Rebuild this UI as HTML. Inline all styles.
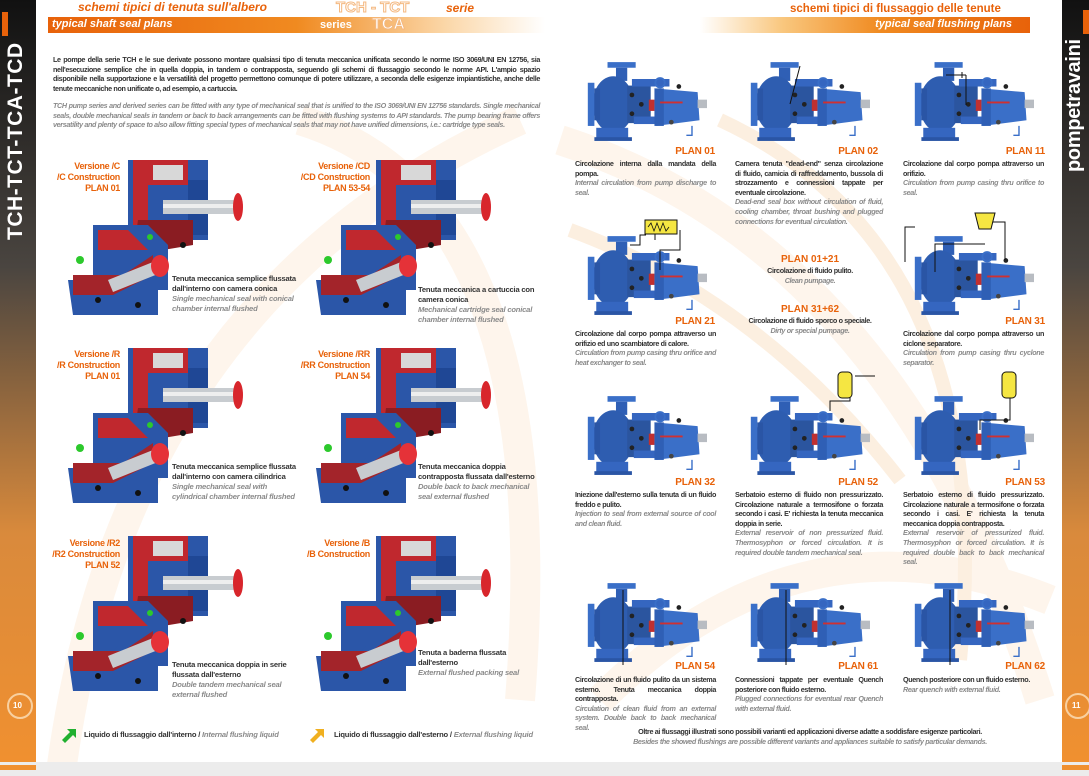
<!DOCTYPE html>
<html><head><meta charset="utf-8">
<style>
*{margin:0;padding:0;box-sizing:border-box}
body{width:1089px;height:776px;overflow:hidden;background:#fff;position:relative;font-family:"Liberation Sans",sans-serif}
.a{position:absolute}
.t{font-size:7.2px;line-height:9.6px;font-weight:bold;color:#333;letter-spacing:-0.35px;text-align:justify}
.t i{font-weight:bold;color:#8a8a8a;display:block}
.pl{position:absolute;font-size:10px;font-weight:bold;color:#e8620a;text-align:right;letter-spacing:-0.2px}
.ver{position:absolute;font-size:9px;line-height:11px;font-weight:bold;color:#e8620a;text-align:right;letter-spacing:-0.3px}
.cap{position:absolute;font-size:7.6px;line-height:10px;font-weight:bold;color:#333;letter-spacing:-0.2px}
.cap i{color:#8a8a8a;display:block}
</style></head><body>
<svg class="a" style="left:0;top:0" width="1089" height="776">
<defs>
<linearGradient id="ls" x1="0" y1="0" x2="0" y2="1"><stop offset="0" stop-color="#111"/><stop offset="0.35" stop-color="#4a4540"/><stop offset="0.7" stop-color="#d98a3c"/><stop offset="1" stop-color="#f09030"/></linearGradient>
<linearGradient id="hb" x1="0" y1="0" x2="1" y2="0"><stop offset="0" stop-color="#e8620a"/><stop offset="0.5" stop-color="#f08a20"/><stop offset="0.8" stop-color="#fbd7a8"/><stop offset="1" stop-color="#fff"/></linearGradient>
<linearGradient id="hb2" x1="0" y1="0" x2="1" y2="0"><stop offset="0" stop-color="#fff"/><stop offset="0.25" stop-color="#f9c77e"/><stop offset="0.55" stop-color="#f08a20"/><stop offset="1" stop-color="#e8620a"/></linearGradient>
<symbol id="pump" viewBox="0 0 130 85">
<rect x="24" y="0" width="30" height="6" fill="#3a6fc8"/>
<rect x="33" y="6" width="12" height="14" fill="#2f5fb5"/>
<ellipse cx="30" cy="45" rx="22" ry="30" fill="#2e5db0"/>
<rect x="3" y="22" width="7" height="46" fill="#3a6fc8"/>
<rect x="10" y="28" width="6" height="34" fill="#2a55a5"/>
<rect x="12" y="70" width="34" height="12" fill="#3566c0"/>
<rect x="10" y="80" width="40" height="4" fill="#2a55a5"/>
<rect x="45" y="25" width="25" height="40" fill="#2b559f"/>
<circle cx="50" cy="35" r="2.5" fill="#222"/><circle cx="50" cy="55" r="2.5" fill="#222"/><circle cx="60" cy="45" r="2.5" fill="#222"/>
<rect x="50" y="18" width="40" height="8" fill="#3566c0"/>
<rect x="52" y="58" width="40" height="8" fill="#3566c0"/>
<rect x="68" y="40" width="6" height="12" fill="#c03030"/>
<path d="M74 28 L120 32 L122 62 L76 68 Z" fill="#3a6fc8"/>
<rect x="74" y="28" width="10" height="40" fill="#2f5fb5"/>
<rect x="80" y="42" width="24" height="2" fill="#d03030"/>
<rect x="120" y="40" width="10" height="9" fill="#b8bcc2"/>
<circle cx="80" cy="22" r="5" fill="none" stroke="#3a6fc8" stroke-width="2"/>
<circle cx="100" cy="26" r="2.5" fill="#222"/><circle cx="92" cy="64" r="2.5" fill="#444"/>
<path d="M114 68 v10 h-6" fill="none" stroke="#3a6fc8" stroke-width="1.5"/>
</symbol>
<symbol id="cut" viewBox="0 0 175 155">
<rect x="60" y="0" width="80" height="80" fill="#2b56a8"/>
<path d="M65 0 h55 v25 h-40 v55 h-15 Z" fill="#c0282e"/>
<rect x="85" y="5" width="30" height="15" fill="#d8d8d8"/>
<rect x="120" y="20" width="20" height="55" fill="#1f4795"/>
<rect x="95" y="40" width="75" height="14" fill="#c8ccd0"/>
<rect x="95" y="44" width="75" height="4" fill="#eee"/>
<ellipse cx="170" cy="47" rx="5" ry="14" fill="#d8262c"/>
<path d="M70 60 h55 v25 l-60 10 Z" fill="#8a1c22"/>
<path d="M25 65 h55 l20 20 v45 h-75 Z" fill="#2b56a8"/>
<path d="M30 70 h30 l20 20 h-50 Z" fill="#c0282e"/>
<path d="M0 120 h40 l10 -10 h40 v45 h-85 Z" fill="#2b56a8"/>
<path d="M5 115 h50 l30 -20 v20 l-40 20 h-40 Z" fill="#a3242a"/>
<path d="M40 120 L90 100 L95 112 L45 132 Z" fill="#c8ccd0"/>
<ellipse cx="92" cy="106" rx="9" ry="11" fill="#e53238"/>
<circle cx="12" cy="100" r="4" fill="#2cc92c"/>
<circle cx="82" cy="77" r="3" fill="#2cc92c"/>
<circle cx="30" cy="140" r="3" fill="#111"/><circle cx="70" cy="145" r="3" fill="#111"/><circle cx="115" cy="85" r="3" fill="#111"/>
</symbol>
</defs>
<g fill="none" stroke="#fef5ec" stroke-width="30">
<path d="M60 780 Q120 300 520 120"/>
<path d="M300 120 Q560 200 520 700"/>
<path d="M560 140 Q900 250 1040 700"/>
<path d="M600 700 Q800 500 1050 600"/>
</g>
<g fill="none" stroke="#fcefe0" stroke-width="14">
<path d="M570 230 Q760 300 900 480"/>
<path d="M720 120 Q1000 250 960 660"/>
</g>
<rect x="0" y="0" width="36" height="762" fill="url(#ls)"/>
<rect x="2" y="12" width="6" height="24" fill="#e8620a"/>
<rect x="1062" y="0" width="27" height="762" fill="url(#ls)"/>
<rect x="1083" y="10" width="6" height="24" fill="#e8620a"/>
<circle cx="20" cy="706" r="12" fill="none" stroke="#f8d0a0" stroke-width="2"/>
<circle cx="1078" cy="706" r="12" fill="none" stroke="#f8d0a0" stroke-width="2"/>
<rect x="0" y="762" width="1089" height="14" fill="#ececec"/>
<rect x="0" y="765" width="36" height="5" fill="#f09030"/>
<rect x="1062" y="765" width="27" height="5" fill="#f09030"/>
<rect x="48" y="17" width="497" height="16" fill="url(#hb)"/>
<rect x="700" y="17" width="330" height="16" fill="url(#hb2)"/>
<use href="#cut" x="68" y="160" width="175" height="155"/>
<use href="#cut" x="316" y="160" width="175" height="155"/>
<use href="#cut" x="68" y="348" width="175" height="155"/>
<use href="#cut" x="316" y="348" width="175" height="155"/>
<use href="#cut" x="68" y="536" width="175" height="155"/>
<use href="#cut" x="316" y="536" width="175" height="155"/>
<path d="M62 740 l8 -8 l-3 -3 h9 v9 l-3 -3 l-8 8 Z" fill="#22b030"/>
<path d="M310 740 l8 -8 l-3 -3 h9 v9 l-3 -3 l-8 8 Z" fill="#f0b020"/>
<g>
<use href="#pump" x="585" y="62" width="122" height="80"/>
<use href="#pump" x="748" y="62" width="122" height="80"/>
<use href="#pump" x="912" y="62" width="122" height="80"/>
<use href="#pump" x="585" y="236" width="122" height="80"/>
<use href="#pump" x="912" y="236" width="122" height="80"/>
<use href="#pump" x="585" y="396" width="122" height="80"/>
<use href="#pump" x="748" y="396" width="122" height="80"/>
<use href="#pump" x="912" y="396" width="122" height="80"/>
<use href="#pump" x="585" y="583" width="122" height="80"/>
<use href="#pump" x="748" y="583" width="122" height="80"/>
<use href="#pump" x="912" y="583" width="122" height="80"/>
</g>
<g stroke="#111" stroke-width="1" fill="none">
<path d="M800 66 L790 104"/>
<path d="M946 75 h20 M962 72 v6 M966 75 v30"/>
<path d="M630 245 h10 v-10 h6 M655 240 v-10 M680 230 v20 h-20 v20"/>
<path d="M935 272 v-28 h50 M985 222 h20 v38 M905 262 v-35 h10"/>
<path d="M850 376 v25 h-20 v10 M855 376 h20"/>
<path d="M1010 390 v30 h-30 v10"/>
<path d="M623 590 v75 M786 590 v75 M950 590 v75"/>
</g>
<rect x="645" y="220" width="32" height="14" fill="#f5e642" stroke="#111"/>
<path d="M648 227 l3 -4 l3 8 l3 -8 l3 8 l3 -8 l3 8 l3 -4" stroke="#111" fill="none" stroke-width="0.8"/>
<path d="M975 213 h20 l-4 16 h-12 Z" fill="#f5e642" stroke="#111"/>
<rect x="838" y="372" width="14" height="26" rx="4" fill="#f5e642" stroke="#111"/>
<rect x="1002" y="372" width="14" height="26" rx="4" fill="#f5e642" stroke="#111"/>
</svg>

<div class="a" style="left:4px;top:240px;width:230px;height:26px;transform-origin:0 0;transform:rotate(-90deg);color:#fff;font-weight:bold;font-size:21px;letter-spacing:0.5px">TCH-TCT-TCA-TCD</div>
<div class="a" style="left:1063px;top:172px;width:170px;height:26px;transform-origin:0 0;transform:rotate(-90deg);color:#fff;font-weight:bold;font-size:20px;letter-spacing:-0.3px">pompetravaini</div>
<div class="a" style="left:13px;top:701px;font-size:8px;font-weight:bold;color:#fff">10</div>
<div class="a" style="left:1072px;top:701px;font-size:8px;font-weight:bold;color:#fff">11</div>

<div class="a" style="left:78px;top:0px;font-size:12px;font-weight:bold;font-style:italic;color:#e8620a">schemi tipici di tenuta sull'albero</div>
<div class="a" style="left:52px;top:18px;font-size:11px;font-weight:bold;font-style:italic;color:#fff">typical shaft seal plans</div>
<div class="a" style="left:336px;top:0px;font-size:15px;line-height:16px;font-weight:bold;color:#fff;-webkit-text-stroke:1px #f4b880">TCH - TCT</div>
<div class="a" style="left:446px;top:1px;font-size:12px;font-weight:bold;font-style:italic;color:#e8620a">serie</div>
<div class="a" style="left:320px;top:19px;font-size:11px;font-weight:bold;color:#fff">series</div>
<div class="a" style="left:372px;top:16px;font-size:16px;line-height:18px;font-weight:bold;color:#fff;-webkit-text-stroke:1px #f4b880">TCA</div>
<div class="a" style="left:790px;top:3px;font-size:11.5px;font-weight:bold;color:#e8620a">schemi tipici di flussaggio delle tenute</div>
<div class="a" style="left:840px;top:18px;width:172px;text-align:right;font-size:11px;font-weight:bold;font-style:italic;color:#fff">typical seal flushing plans</div>

<div class="a t" style="left:53px;top:55px;width:487px;font-size:7.2px">Le pompe della serie TCH e le sue derivate possono montare qualsiasi tipo di tenuta meccanica unificata secondo le norme ISO 3069/UNI EN 12756, sia nell'esecuzione semplice che in quella doppia, in tandem o contrapposta, seguendo gli schemi di flussaggio secondo le norme API. L'ampio spazio disponibile nella supportazione e la versatilità del progetto permettono comunque di potere utilizzare, a seconda delle esigenze impiantistiche, anche delle tenute meccaniche non unificate o, ad esempio, a cartuccia.</div>
<div class="a t" style="left:53px;top:101px;width:487px;font-size:7.2px;font-style:italic;color:#8a8a8a">TCH pump series and derived series can be fitted with any type of mechanical seal that is unified to the ISO 3069/UNI EN 12756 standards. Single mechanical seals, double mechanical seals in tandem or back to back arrangements can be fitted with flushing systems to API standards. The pump bearing frame offers versatility and plenty of space to also allow fitting special types of mechanical seals that may not have unified dimensions, i.e.: cartridge type seals.</div>

<div class="ver" style="left:40px;top:161px;width:80px">Versione /C<br>/C Construction<br>PLAN 01</div>
<div class="ver" style="left:290px;top:161px;width:80px">Versione /CD<br>/CD Construction<br>PLAN 53-54</div>
<div class="ver" style="left:40px;top:349px;width:80px">Versione /R<br>/R Construction<br>PLAN 01</div>
<div class="ver" style="left:290px;top:349px;width:80px">Versione /RR<br>/RR Construction<br>PLAN 54</div>
<div class="ver" style="left:40px;top:538px;width:80px">Versione /R2<br>/R2 Construction<br>PLAN 52</div>
<div class="ver" style="left:290px;top:538px;width:80px">Versione /B<br>/B Construction</div>

<div class="cap" style="left:172px;top:274px">Tenuta meccanica semplice flussata<br>dall'interno con camera conica<i>Single mechanical seal with conical<br>chamber internal flushed</i></div>
<div class="cap" style="left:418px;top:285px">Tenuta meccanica a cartuccia con<br>camera conica<i>Mechanical cartridge seal conical<br>chamber internal flushed</i></div>
<div class="cap" style="left:172px;top:462px">Tenuta meccanica semplice flussata<br>dall'interno con camera cilindrica<i>Single mechanical seal with<br>cylindrical chamber internal flushed</i></div>
<div class="cap" style="left:418px;top:462px">Tenuta meccanica doppia<br>contrapposta flussata dall'esterno<i>Double back to back mechanical<br>seal external flushed</i></div>
<div class="cap" style="left:172px;top:660px">Tenuta meccanica doppia in serie<br>flussata dall'esterno<i>Double tandem mechanical seal<br>external flushed</i></div>
<div class="cap" style="left:418px;top:648px">Tenuta a baderna flussata<br>dall'esterno<i>External flushed packing seal</i></div>

<div class="cap" style="left:84px;top:730px">Liquido di flussaggio dall'interno / <span style="color:#8a8a8a;font-style:italic">Internal flushing liquid</span></div>
<div class="cap" style="left:334px;top:730px">Liquido di flussaggio dall'esterno / <span style="color:#8a8a8a;font-style:italic">External flushing liquid</span></div>

<div class="pl" style="left:640px;top:146px;width:75px">PLAN 01</div>
<div class="pl" style="left:800px;top:146px;width:78px">PLAN 02</div>
<div class="pl" style="left:970px;top:146px;width:75px">PLAN 11</div>
<div class="a t" style="left:575px;top:159px;width:141px">Circolazione interna dalla mandata della pompa.<i style="font-style:italic">Internal circulation from pump discharge to seal.</i></div>
<div class="a t" style="left:735px;top:159px;width:148px">Camera tenuta "dead-end" senza circolazione di fluido, camicia di raffreddamento, bussola di strozzamento e connessioni tappate per eventuale circolazione.<i style="font-style:italic">Dead-end seal box without circulation of fluid, cooling chamber, throat bushing and plugged connections for eventual circulation.</i></div>
<div class="a t" style="left:903px;top:159px;width:141px">Circolazione dal corpo pompa attraverso un orifizio.<i style="font-style:italic">Circulation from pump casing thru orifice to seal.</i></div>

<div class="a" style="left:740px;top:254px;width:140px;text-align:center;font-size:10px;font-weight:bold;color:#e8620a">PLAN 01+21</div>
<div class="a t" style="left:740px;top:266px;width:140px;text-align:center">Circolazione di fluido pulito.<i style="font-style:italic">Clean pumpage.</i></div>
<div class="a" style="left:740px;top:304px;width:140px;text-align:center;font-size:10px;font-weight:bold;color:#e8620a">PLAN 31+62</div>
<div class="a t" style="left:735px;top:316px;width:150px;text-align:center">Circolazione di fluido sporco o speciale.<i style="font-style:italic">Dirty or special pumpage.</i></div>

<div class="pl" style="left:640px;top:316px;width:75px">PLAN 21</div>
<div class="pl" style="left:970px;top:316px;width:75px">PLAN 31</div>
<div class="a t" style="left:575px;top:329px;width:141px">Circolazione dal corpo pompa attraverso un orifizio ed uno scambiatore di calore.<i style="font-style:italic">Circulation from pump casing thru orifice and heat exchanger to seal.</i></div>
<div class="a t" style="left:903px;top:329px;width:141px">Circolazione dal corpo pompa attraverso un ciclone separatore.<i style="font-style:italic">Circulation from pump casing thru cyclone separator.</i></div>

<div class="pl" style="left:640px;top:477px;width:75px">PLAN 32</div>
<div class="pl" style="left:800px;top:477px;width:78px">PLAN 52</div>
<div class="pl" style="left:970px;top:477px;width:75px">PLAN 53</div>
<div class="a t" style="left:575px;top:490px;width:141px">Iniezione dall'esterno sulla tenuta di un fluido freddo e pulito.<i style="font-style:italic">Injection to seal from external source of cool and clean fluid.</i></div>
<div class="a t" style="left:735px;top:490px;width:148px">Serbatoio esterno di fluido non pressurizzato. Circolazione naturale a termosifone o forzata secondo i casi. E' richiesta la tenuta meccanica doppia in serie.<i style="font-style:italic">External reservoir of non pressurized fluid. Thermosyphon or forced circulation. It is required double tandem mechanical seal.</i></div>
<div class="a t" style="left:903px;top:490px;width:141px">Serbatoio esterno di fluido pressurizzato. Circolazione naturale a termosifone o forzata secondo i casi. E' richiesta la tenuta meccanica doppia contrapposta.<i style="font-style:italic">External reservoir of pressurized fluid. Thermosyphon or forced circulation. It is required double back to back mechanical seal.</i></div>

<div class="pl" style="left:640px;top:661px;width:75px">PLAN 54</div>
<div class="pl" style="left:800px;top:661px;width:78px">PLAN 61</div>
<div class="pl" style="left:970px;top:661px;width:75px">PLAN 62</div>
<div class="a t" style="left:575px;top:675px;width:141px">Circolazione di un fluido pulito da un sistema esterno. Tenuta meccanica doppia contrapposta.<i style="font-style:italic">Circulation of clean fluid from an external system. Double back to back mechanical seal.</i></div>
<div class="a t" style="left:735px;top:675px;width:148px">Connessioni tappate per eventuale Quench posteriore con fluido esterno.<i style="font-style:italic">Plugged connections for eventual rear Quench with external fluid.</i></div>
<div class="a t" style="left:903px;top:675px;width:141px">Quench posteriore con un fluido esterno.<i style="font-style:italic">Rear quench with external fluid.</i></div>

<div class="a t" style="left:580px;top:727px;width:460px;text-align:center">Oltre ai flussaggi illustrati sono possibili varianti ed applicazioni diverse adatte a soddisfare esigenze particolari.<i style="font-style:italic">Besides the showed flushings are possible different variants and appliances suitable to satisfy particular demands.</i></div>
</body></html>
